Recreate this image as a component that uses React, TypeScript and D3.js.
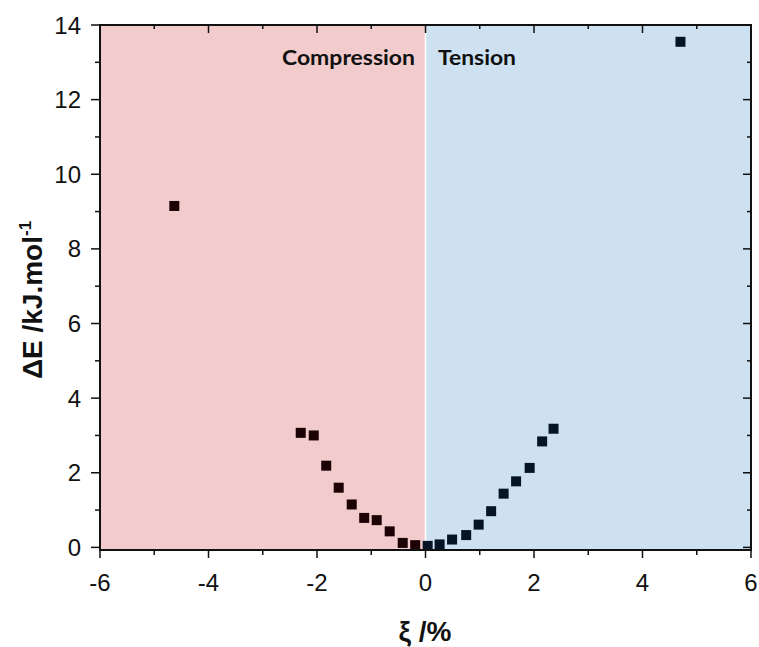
import React from "react";
import * as d3 from "d3";

const compressionX = [-4.63, -2.3, -2.06, -1.83, -1.6, -1.36, -1.13, -0.9, -0.66, -0.42, -0.19];
const compressionY = [9.15, 3.07, 3.0, 2.19, 1.6, 1.15, 0.79, 0.73, 0.43, 0.12, 0.06];
const tensionX = [0.04, 0.26, 0.49, 0.75, 0.98, 1.21, 1.44, 1.67, 1.92, 2.15, 2.36, 4.7];
const tensionY = [0.04, 0.08, 0.21, 0.33, 0.61, 0.97, 1.44, 1.77, 2.13, 2.84, 3.18, 13.55];
const xTicks = [-6, -4, -2, 0, 2, 4, 6];
const xMinor = [-5, -3, -1, 1, 3, 5];
const yTicks = [0, 2, 4, 6, 8, 10, 12, 14];
const yMinor = [1, 3, 5, 7, 9, 11, 13];

export default function App() {
  const W = 759, H = 647;
  const L = 100, R = 751, T = 25, B = 550;
  const x = d3.scaleLinear().domain([-6, 6]).range([L, R]);
  const y = d3.scaleLinear().domain([-0.07, 14]).range([B, T]);
  const ms = 10;
  const font = "'Liberation Sans', Arial, sans-serif";
  return (
    <div style={{ position: "absolute", left: 0, top: 0 }}>
      <svg width={W} height={H} style={{ display: "block", background: "#fff" }}>
        <rect x={x(-6)} y={T} width={x(0) - x(-6)} height={B - T} fill="#f2cbcc" />
        <rect x={x(0)} y={T} width={x(6) - x(0)} height={B - T} fill="#cde1f1" />
        <line x1={x(0)} x2={x(0)} y1={T} y2={B} stroke="#fff" strokeWidth={1.5} />
        <text x={282} y={65} textLength={133} lengthAdjust="spacingAndGlyphs" fontFamily="Lato, 'Open Sans', sans-serif" fontWeight="bold" fontSize={21} fill="#111">Compression</text>
        <text x={438} y={65} textLength={78} lengthAdjust="spacingAndGlyphs" fontFamily="Lato, 'Open Sans', sans-serif" fontWeight="bold" fontSize={21} fill="#111">Tension</text>
        {compressionX.map((v, i) => (
          <rect key={"c" + i} x={x(v) - ms / 2} y={y(compressionY[i]) - ms / 2} width={ms} height={ms} fill="#1c0204" />
        ))}
        {tensionX.map((v, i) => (
          <rect key={"t" + i} x={x(v) - ms / 2} y={y(tensionY[i]) - ms / 2} width={ms} height={ms} fill="#061526" />
        ))}
        <rect x={L} y={T} width={R - L} height={B - T} fill="none" stroke="#111" strokeWidth={2} />
        {xTicks.map((v) => (
          <g key={"xt" + v}>
            <line x1={x(v)} x2={x(v)} y1={B} y2={B + 8} stroke="#111" strokeWidth={1.5} />
            <line x1={x(v)} x2={x(v)} y1={T} y2={T + 8} stroke="#111" strokeWidth={1.5} />
            <text x={x(v)} y={591} textAnchor="middle" fontFamily={font} fontSize={24} fill="#111">{v < 0 ? "-" + Math.abs(v) : v}</text>
          </g>
        ))}
        {xMinor.map((v) => (
          <g key={"xm" + v}>
            <line x1={x(v)} x2={x(v)} y1={B} y2={B + 5} stroke="#111" strokeWidth={1.5} />
            <line x1={x(v)} x2={x(v)} y1={T} y2={T + 4} stroke="#111" strokeWidth={1.5} />
          </g>
        ))}
        {yTicks.map((v) => (
          <g key={"yt" + v}>
            <line x1={L - 9} x2={L} y1={y(v)} y2={y(v)} stroke="#111" strokeWidth={1.5} />
            <line x1={R - 8} x2={R} y1={y(v)} y2={y(v)} stroke="#111" strokeWidth={1.5} />
            <text x={81} y={y(v) + 8.5} textAnchor="end" fontFamily={font} fontSize={24} fill="#111">{v}</text>
          </g>
        ))}
        {yMinor.map((v) => (
          <g key={"ym" + v}>
            <line x1={L - 5} x2={L} y1={y(v)} y2={y(v)} stroke="#111" strokeWidth={1.5} />
            <line x1={R - 4} x2={R} y1={y(v)} y2={y(v)} stroke="#111" strokeWidth={1.5} />
          </g>
        ))}
        <text x={425} y={641} textAnchor="middle" fontFamily={font} fontWeight="bold" fontSize={28} fill="#111">ξ /%</text>
        <text transform="translate(42,300) rotate(-90)" textAnchor="middle" fontFamily={font} fontWeight="bold" fontSize={28} fill="#111">
          ΔE /kJ.mol<tspan dy={-11} fontSize={17}>-1</tspan>
        </text>
      </svg>
    </div>
  );
}
